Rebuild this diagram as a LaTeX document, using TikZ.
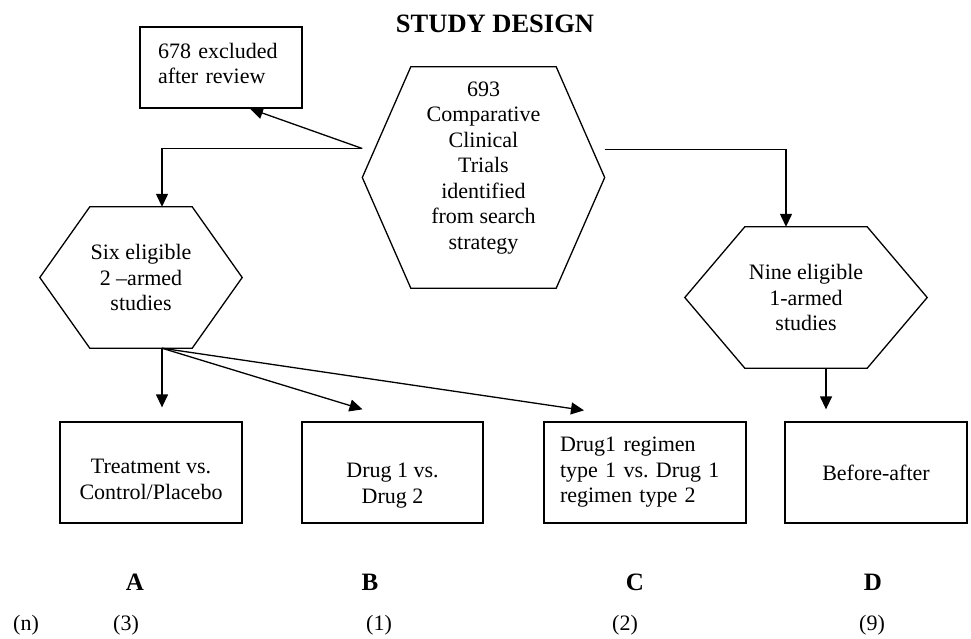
\documentclass[tikz,border=0pt]{standalone}
\usepackage{fontspec}
\setmainfont{Liberation Serif}
\frenchspacing
\usetikzlibrary{arrows.meta}
\tikzset{
myBox/.style={
	rectangle,draw,line width=1.3pt,
	inner sep=0pt,minimum height=101pt,align=center
}
, myExcl/.style={
	rectangle,draw,line width=1.3pt,
	inner sep=0pt,minimum width=162pt,minimum height=81pt,
	text width=126pt,align=left
}
, myHex/.style={
	rectangle,inner sep=0pt,align=center
}
, myHexLine/.style={line width=1.3pt,line join=miter}
, myTitle/.style={font=\fontsize{26.5}{30}\selectfont\bfseries}
, myLetter/.style={font=\fontsize{25}{30}\selectfont\bfseries}
% links
, myLink/.style={-{Triangle[length=13pt,width=12pt]},line width=1.3pt}
}

\begin{document}
\begin{tikzpicture}[x=1pt,y=-1pt,
	every node/.style={font=\fontsize{22}{25.5}\selectfont}]
	\useasboundingbox (0,0) rectangle (971,638);
	% title
	\node[myTitle] (Title) at (495,24) {STUDY DESIGN};
	% hexagons
	\node[myHex,minimum width=145pt,minimum height=221pt] (Trials) at (483.5,177.5)
		{693\\Comparative\\Clinical\\Trials\\identified\\from search\\strategy\\[-1pt]{}};
	\node[myHex,minimum width=102pt,minimum height=141pt] (Six) at (141,277.5)
		{Six eligible\\2 --armed\\studies};
	\node[myHex,minimum width=122pt,minimum height=141pt] (Nine) at (806,297.5)
		{Nine eligible\\1-armed\\studies};
	\draw[myHexLine] (Trials.north west) -- (Trials.north east) -- ([xshift=48.5pt]Trials.east)
		-- (Trials.south east) -- (Trials.south west) -- ([xshift=-48.5pt]Trials.west) -- cycle;
	\draw[myHexLine] (Six.north west) -- (Six.north east) -- ([xshift=50pt]Six.east)
		-- (Six.south east) -- (Six.south west) -- ([xshift=-50pt]Six.west) -- cycle;
	\draw[myHexLine] (Nine.north west) -- (Nine.north east) -- ([xshift=60pt]Nine.east)
		-- (Nine.south east) -- (Nine.south west) -- ([xshift=-60pt]Nine.west) -- cycle;
	% boxes
	\node[myExcl] (Excl) at (221,67.5) {678 excluded\\after review\\[-17.5pt]\mbox{}};
	\node[myBox,minimum width=182pt] (A) at (151,472.5) {{}\\[3pt]Treatment vs.\\Control/Placebo};
	\node[myBox,minimum width=181pt] (B) at (392.5,472.5) {{}\\[15pt]Drug 1 vs.\\Drug 2};
	\node[myBox,minimum width=202pt,text width=170pt,align=left] (C) at (645,472.5)
		{Drug1 regimen\\type 1 vs. Drug 1\\regimen type 2};
	\node[myBox,minimum width=182pt] (D) at (876,472.5) {Before-after};
	% group labels
	\node[myLetter] (LabA) at (135,582) {A};
	\node[myLetter] (LabB) at (370,582) {B};
	\node[myLetter] (LabC) at (635,582) {C};
	\node[myLetter] (LabD) at (873,582) {D};
	\node (CountN) at (26,625) {(n)};
	\node (CountA) at (126,625) {(3)};
	\node (CountB) at (379,625) {(1)};
	\node (CountC) at (625,625) {(2)};
	\node (CountD) at (872,625) {(9)};

	% links
	\coordinate (SplitL) at ([xshift=-48.5pt,yshift=29pt]Trials.west);
	\coordinate (SplitR) at ([xshift=48.5pt,yshift=28pt]Trials.east);
	\draw[myLink] (SplitL) -- ([xshift=29pt]Excl.south);
	\draw[myLink] (SplitL) -| ([xshift=21pt]Six.north);
	\draw[myLink] (SplitR) -| ([xshift=-20pt]Nine.north);
	\draw[myLink] ([xshift=21pt]Six.south) -- ([xshift=11pt,yshift=14pt]A.north);
	\draw[myLink] ([xshift=21pt]Six.south) -- ([xshift=-30pt,yshift=12pt]B.north);
	\draw[myLink] ([xshift=21pt]Six.south) -- ([xshift=-61pt,yshift=11pt]C.north);
	\draw[myLink] ([xshift=20pt]Nine.south) -- ([xshift=-50pt,yshift=12pt]D.north);
\end{tikzpicture}
\end{document}
